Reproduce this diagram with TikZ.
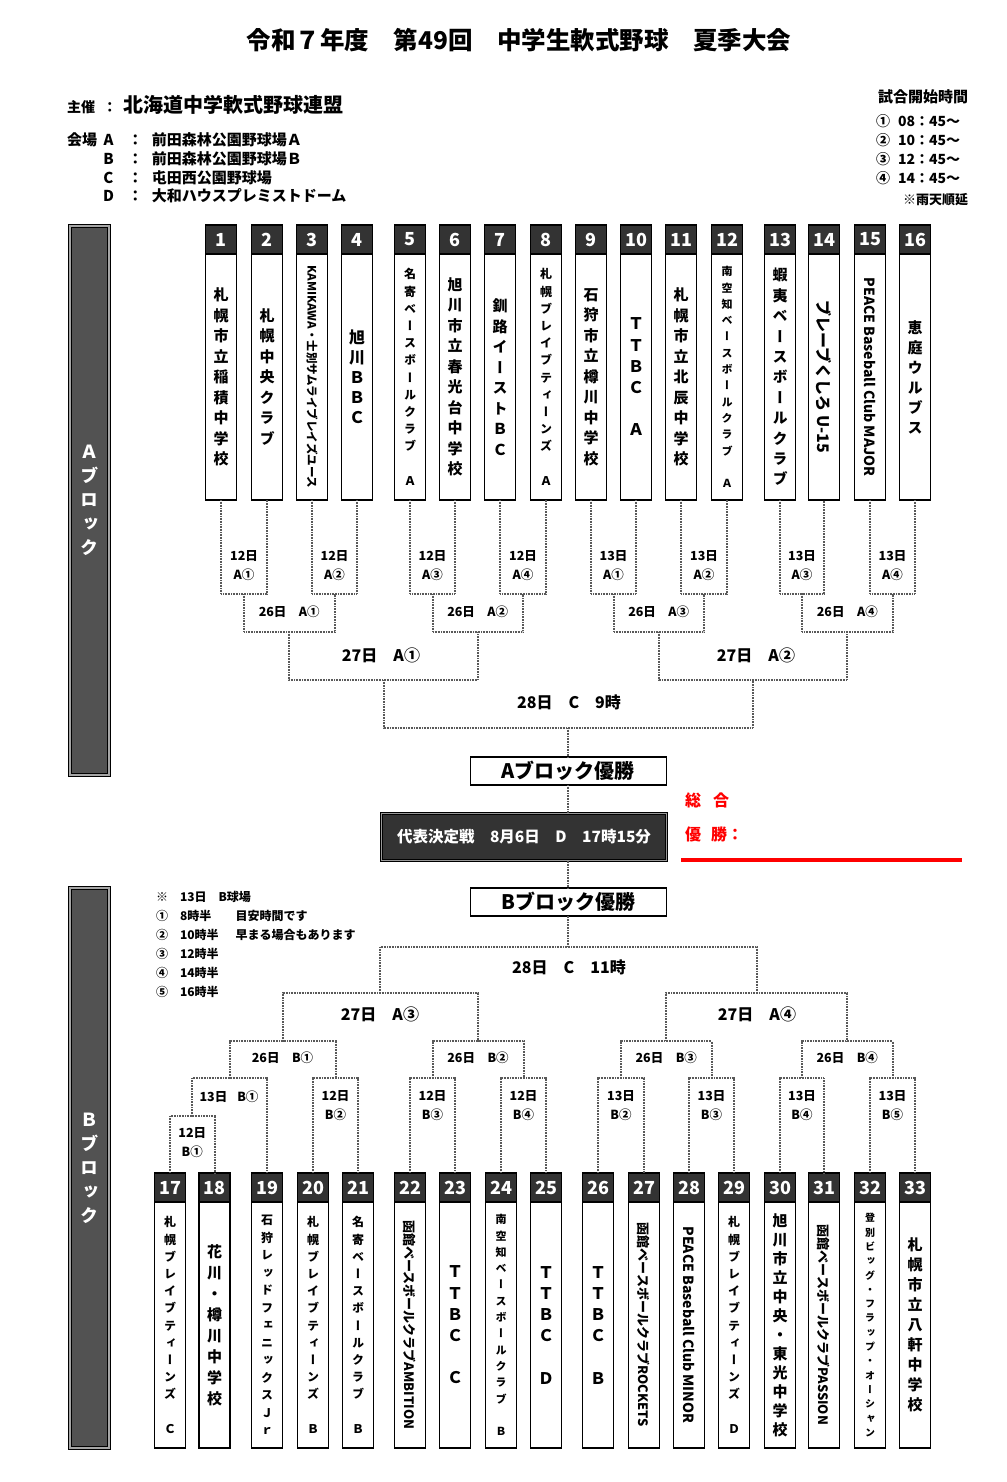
\documentclass[tikz,border=0pt]{standalone}
\usepackage{fontspec}
\setmainfont{Noto Sans CJK JP}
\newfontfamily\vjp{Noto Sans CJK JP}[RawFeature=+vert]
\usepackage{graphicx}
\usepackage{tikz}
\makeatletter
% stacked team names, one character per line
\newcommand\vname[3]{{\vjp\bfseries\fontsize{#1}{#2}\selectfont\vbox{\@tfor\vch:=#3\do{\hbox to #1pt{\hss\vch\hss}}}}}
\makeatother
\newcommand\rname[2]{\rotatebox{-90}{\fontsize{#1}{#1}\selectfont #2}}
\tikzset{
    every node/.style={inner sep=0pt, outer sep=0pt, font=\bfseries}
}
\tikzset{
    numbox/.style={draw, line width=1.5pt, fill=black!80, text=white,
    	minimum width=31pt, minimum height=29pt,
    	font=\bfseries\fontsize{18}{18}\selectfont},
    namebox/.style={draw, line width=1.5pt, fill=white,
    	minimum width=31pt, minimum height=246pt},
    blockbar/.style={draw=black, line width=1.2pt, double=black!35,
    	double distance=1.5pt, fill=black!68, text=white,
    	minimum width=39pt, minimum height=549pt},
    champ/.style={draw, line width=1.5pt, fill=white, minimum width=196pt,
    	minimum height=28pt, font=\bfseries\fontsize{20}{20}\selectfont},
    repbox/.style={draw=black, line width=1.2pt, double=black!40,
    	double distance=1.2pt, fill=black!80, text=white,
    	minimum width=285pt, minimum height=47pt,
    	font=\bfseries\fontsize{15.5}{15.5}\selectfont},
    rlbl/.style={font=\bfseries\fontsize{12.5}{19}\selectfont, align=center},
    rlblm/.style={font=\bfseries\fontsize{16}{16}\selectfont},
    bline/.style={draw=black!65, line width=2pt, dash pattern=on 1pt off 0.6pt}
}

\begin{document}
\begin{tikzpicture}[x=1pt, y=-1pt]
	\fill[white] (0,0) rectangle (1006,1482);
	\useasboundingbox (0,0) rectangle (1006,1482);

	% header
	\node (title) at (519,40) {\fontsize{24.5}{24.5}\selectfont 令和７年度　第49回　中学生軟式野球　夏季大会};
	\node[anchor=west] (host) at (67,105) {{\fontsize{14}{14}\selectfont 主催\hspace{8pt}：}\hspace{6pt}{\fontsize{20}{20}\selectfont 北海道中学軟式野球連盟}};
	\node[anchor=west] (venue) at (67,170) {\fontsize{15}{18.7}\selectfont\begin{tabular}{@{}l@{\hspace{6pt}}c@{\hspace{14pt}}c@{\hspace{9pt}}l@{}}
		会場 & A & ： & 前田森林公園野球場Ａ\\
		& B & ： & 前田森林公園野球場Ｂ\\
		& C & ： & 屯田西公園野球場\\
		& D & ： & 大和ハウスプレミストドーム
	\end{tabular}};
	\node[anchor=east] (timehd) at (968,97) {\fontsize{15}{15}\selectfont 試合開始時間};
	\node[anchor=west] (times) at (876,151.5) {\fontsize{14}{19}\selectfont\begin{tabular}{@{}l@{\hspace{8pt}}l@{}}
		① & 08：45～\\ ② & 10：45～\\ ③ & 12：45～\\ ④ & 14：45～
	\end{tabular}};
	\node[anchor=east] (rain) at (968,200) {\fontsize{13}{13}\selectfont ※雨天順延};

	% block bars
	\node[blockbar] (ablock) at (89.5,500.5) {\vname{18}{24}{Ａブロック}};
	\node[blockbar, minimum height=560pt] (bblock) at (89.5,1168) {\vname{18}{24}{Ｂブロック}};

	% A block teams
	\node[numbox] (h1) at (221,239.5) {1};
	\node[namebox] (t1) at (221,377) {\vname{15}{20.5}{札幌市立稲積中学校}};
	\node[numbox] (h2) at (267,239.5) {2};
	\node[namebox] (t2) at (267,377) {\vname{15}{20.5}{札幌中央クラブ}};
	\node[numbox] (h3) at (312,239.5) {3};
	\node[namebox] (t3) at (312,377) {\rname{11.5}{KAMIKAWA・士別サムライブレイズユース}};
	\node[numbox] (h4) at (357,239.5) {4};
	\node[namebox] (t4) at (357,377) {\vname{16}{20}{旭川ＢＢＣ}};
	\node[numbox] (h5) at (410,239.5) {5};
	\node[namebox] (t5) at (410,377) {\vname{12}{17.2}{名寄ベースボールクラブ　Ａ}};
	\node[numbox] (h6) at (455,239.5) {6};
	\node[namebox] (t6) at (455,377) {\vname{15}{20.5}{旭川市立春光台中学校}};
	\node[numbox] (h7) at (500,239.5) {7};
	\node[namebox] (t7) at (500,377) {\vname{15}{20.5}{釧路イーストＢＣ}};
	\node[numbox] (h8) at (546,239.5) {8};
	\node[namebox] (t8) at (546,377) {\vname{12}{17.2}{札幌ブレイブティーンズ　Ａ}};
	\node[numbox] (h9) at (591,239.5) {9};
	\node[namebox] (t9) at (591,377) {\vname{15}{20.5}{石狩市立樽川中学校}};
	\node[numbox] (h10) at (636,239.5) {10};
	\node[namebox] (t10) at (636,377) {\vname{16}{21.2}{ＴＴＢＣ　Ａ}};
	\node[numbox] (h11) at (681,239.5) {11};
	\node[namebox] (t11) at (681,377) {\vname{15}{20.5}{札幌市立北辰中学校}};
	\node[numbox] (h12) at (727,239.5) {12};
	\node[namebox] (t12) at (727,377) {\vname{11}{16.3}{南空知ベースボールクラブ　Ａ}};
	\node[numbox] (h13) at (780,239.5) {13};
	\node[namebox] (t13) at (780,377) {\vname{15}{20.4}{蝦夷ベースボールクラブ}};
	\node[numbox] (h14) at (824,239.5) {14};
	\node[namebox] (t14) at (824,377) {\rname{16}{ブレーブくしろ U-15}};
	\node[numbox] (h15) at (870,239.5) {15};
	\node[namebox] (t15) at (870,377) {\rname{14}{PEACE Baseball Club MAJOR}};
	\node[numbox] (h16) at (915,239.5) {16};
	\node[namebox] (t16) at (915,377) {\vname{15}{20}{恵庭ウルブス}};

	% B block teams
	\node[numbox] (h17) at (170,1187.5) {17};
	\node[namebox] (t17) at (170,1325) {\vname{12}{17.2}{札幌ブレイブティーンズ　Ｃ}};
	\node[numbox] (h18) at (214.5,1187.5) {18};
	\node[namebox] (t18) at (214.5,1325) {\vname{15}{21}{花川・樽川中学校}};
	\node[numbox] (h19) at (267,1187.5) {19};
	\node[namebox] (t19) at (267,1325) {\vname{12}{17.5}{石狩レッドフェニックスＪｒ}};
	\node[numbox] (h20) at (313,1187.5) {20};
	\node[namebox] (t20) at (313,1325) {\vname{12}{17.2}{札幌ブレイブティーンズ　Ｂ}};
	\node[numbox] (h21) at (358,1187.5) {21};
	\node[namebox] (t21) at (358,1325) {\vname{12}{17.2}{名寄ベースボールクラブ　Ｂ}};
	\node[numbox] (h22) at (410,1187.5) {22};
	\node[namebox] (t22) at (410,1325) {\rname{13}{函館ベースボールクラブAMBITION}};
	\node[numbox] (h23) at (455,1187.5) {23};
	\node[namebox] (t23) at (455,1325) {\vname{16}{21.2}{ＴＴＢＣ　Ｃ}};
	\node[numbox] (h24) at (501,1187.5) {24};
	\node[namebox] (t24) at (501,1325) {\vname{11}{16.3}{南空知ベースボールクラブ　Ｂ}};
	\node[numbox] (h25) at (546,1187.5) {25};
	\node[namebox] (t25) at (546,1325) {\vname{16}{21.2}{ＴＴＢＣ　Ｄ}};
	\node[numbox] (h26) at (598,1187.5) {26};
	\node[namebox] (t26) at (598,1325) {\vname{16}{21.2}{ＴＴＢＣ　Ｂ}};
	\node[numbox] (h27) at (644,1187.5) {27};
	\node[namebox] (t27) at (644,1325) {\rname{13}{函館ベースボールクラブROCKETS}};
	\node[numbox] (h28) at (689,1187.5) {28};
	\node[namebox] (t28) at (689,1325) {\rname{14}{PEACE Baseball Club MINOR}};
	\node[numbox] (h29) at (734,1187.5) {29};
	\node[namebox] (t29) at (734,1325) {\vname{12}{17.2}{札幌ブレイブティーンズ　Ｄ}};
	\node[numbox] (h30) at (780,1187.5) {30};
	\node[namebox] (t30) at (780,1325) {\vname{15}{19}{旭川市立中央・東光中学校}};
	\node[numbox] (h31) at (824,1187.5) {31};
	\node[namebox] (t31) at (824,1325) {\rname{13}{函館ベースボールクラブPASSION}};
	\node[numbox] (h32) at (870,1187.5) {32};
	\node[namebox] (t32) at (870,1325) {\vname{10}{14.3}{登別ビッグ・フラップ・オーシャン}};
	\node[numbox] (h33) at (915,1187.5) {33};
	\node[namebox] (t33) at (915,1325) {\vname{15}{20}{札幌市立八軒中学校}};

	% centre
	\node[champ] (achamp) at (568.25,771) {Aブロック優勝};
	\node[repbox] (final) at (524,837) {代表決定戦　8月6日　D　17時15分};
	\node[champ] (bchamp) at (568.25,902) {Bブロック優勝};
	\node[anchor=west, text=red] (sogo) at (685,800) {\fontsize{16}{16}\selectfont 総\hspace{12pt}合};
	\node[anchor=west, text=red] (yusho) at (685,834) {\fontsize{16}{16}\selectfont 優\hspace{10pt}勝：};
	\draw[red, line width=3.5pt] (681,860) -- (962,860);

	% note on B block
	\node[anchor=west] (bnote) at (156,945.5) {\fontsize{12}{19}\selectfont\begin{tabular}{@{}l@{\hspace{12pt}}l@{\hspace{17pt}}l@{}}
		※ & \multicolumn{2}{@{}l@{}}{13日\hspace{12pt}B球場}\\
		① & 8時半 & 目安時間です\\
		② & 10時半 & 早まる場合もあります\\
		③ & 12時半 & \\
		④ & 14時半 & \\
		⑤ & 16時半 &
	\end{tabular}};

	% A bracket points
	\coordinate (a1) at (244,594); \coordinate (a2) at (334.5,594);
	\coordinate (a3) at (432.5,594); \coordinate (a4) at (523,594);
	\coordinate (a5) at (613.5,594); \coordinate (a6) at (704,594);
	\coordinate (a7) at (802,594); \coordinate (a8) at (892.5,594);
	\coordinate (a9) at (289.25,632); \coordinate (a10) at (477.75,632);
	\coordinate (a11) at (658.75,632); \coordinate (a12) at (847.25,632);
	\coordinate (a13) at (383.5,680); \coordinate (a14) at (753,680);
	\coordinate (a15) at (568.25,728);

	\draw[bline] (t1.south) |- (a1) -| (t2.south);
	\draw[bline] (t3.south) |- (a2) -| (t4.south);
	\draw[bline] (t5.south) |- (a3) -| (t6.south);
	\draw[bline] (t7.south) |- (a4) -| (t8.south);
	\draw[bline] (t9.south) |- (a5) -| (t10.south);
	\draw[bline] (t11.south) |- (a6) -| (t12.south);
	\draw[bline] (t13.south) |- (a7) -| (t14.south);
	\draw[bline] (t15.south) |- (a8) -| (t16.south);
	\draw[bline] (a1) |- (a9) -| (a2); \draw[bline] (a3) |- (a10) -| (a4);
	\draw[bline] (a5) |- (a11) -| (a6); \draw[bline] (a7) |- (a12) -| (a8);
	\draw[bline] (a9) |- (a13) -| (a10); \draw[bline] (a11) |- (a14) -| (a12);
	\draw[bline] (a13) |- (a15) -| (a14);
	\draw[bline] (a15) -- (achamp.north);
	\draw[bline] (achamp.south) -- (achamp.south |- final.north);
	\draw[bline] (achamp.south |- final.south) -- (bchamp.north);

	\node[rlbl] (la1) at (244,566) {12日\\A①};
	\node[rlbl] (la2) at (334.5,566) {12日\\A②};
	\node[rlbl] (la3) at (432.5,566) {12日\\A③};
	\node[rlbl] (la4) at (523,566) {12日\\A④};
	\node[rlbl] (la5) at (613.5,566) {13日\\A①};
	\node[rlbl] (la6) at (704,566) {13日\\A②};
	\node[rlbl] (la7) at (802,566) {13日\\A③};
	\node[rlbl] (la8) at (892.5,566) {13日\\A④};
	\node[rlbl] (la9) at (289.25,612) {26日　A①};
	\node[rlbl] (la10) at (477.75,612) {26日　A②};
	\node[rlbl] (la11) at (658.75,612) {26日　A③};
	\node[rlbl] (la12) at (847.25,612) {26日　A④};
	\node[rlblm] (la13) at (381,655) {27日　A①};
	\node[rlblm] (la14) at (756,655) {27日　A②};
	\node[rlblm] (la15) at (569,702) {28日　C　9時};

	% B bracket points
	\coordinate (b0) at (192.25,1116);
	\coordinate (b1) at (229.6,1078); \coordinate (b2) at (335.5,1078);
	\coordinate (b3) at (432.5,1078); \coordinate (b4) at (523.5,1078);
	\coordinate (b5) at (621,1078); \coordinate (b6) at (711.5,1078);
	\coordinate (b7) at (802,1078); \coordinate (b8) at (892.5,1078);
	\coordinate (b9) at (282.5,1041); \coordinate (b10) at (478,1041);
	\coordinate (b11) at (666.25,1041); \coordinate (b12) at (847.25,1041);
	\coordinate (b13) at (380.25,993); \coordinate (b14) at (756.75,993);
	\coordinate (b15) at (568.25,947);

	\draw[bline] (h17.north) |- (b0) -| (h18.north);
	\draw[bline] (b0) |- (b1) -| (h19.north);
	\draw[bline] (h20.north) |- (b2) -| (h21.north);
	\draw[bline] (h22.north) |- (b3) -| (h23.north);
	\draw[bline] (h24.north) |- (b4) -| (h25.north);
	\draw[bline] (h26.north) |- (b5) -| (h27.north);
	\draw[bline] (h28.north) |- (b6) -| (h29.north);
	\draw[bline] (h30.north) |- (b7) -| (h31.north);
	\draw[bline] (h32.north) |- (b8) -| (h33.north);
	\draw[bline] (b1) |- (b9) -| (b2); \draw[bline] (b3) |- (b10) -| (b4);
	\draw[bline] (b5) |- (b11) -| (b6); \draw[bline] (b7) |- (b12) -| (b8);
	\draw[bline] (b9) |- (b13) -| (b10); \draw[bline] (b11) |- (b14) -| (b12);
	\draw[bline] (b13) |- (b15) -| (b14);
	\draw[bline] (b15) -- (bchamp.south);

	\node[rlbl] (lb0) at (192.25,1143) {12日\\B①};
	\node[rlbl] (lb1) at (229,1097) {13日\hspace{10pt}B①};
	\node[rlbl] (lb2) at (335.5,1106) {12日\\B②};
	\node[rlbl] (lb3) at (432.5,1106) {12日\\B③};
	\node[rlbl] (lb4) at (523.5,1106) {12日\\B④};
	\node[rlbl] (lb5) at (621,1106) {13日\\B②};
	\node[rlbl] (lb6) at (711.5,1106) {13日\\B③};
	\node[rlbl] (lb7) at (802,1106) {13日\\B④};
	\node[rlbl] (lb8) at (892.5,1106) {13日\\B⑤};
	\node[rlbl] (lb9) at (282.5,1058) {26日　B①};
	\node[rlbl] (lb10) at (478,1058) {26日　B②};
	\node[rlbl] (lb11) at (666.25,1058) {26日　B③};
	\node[rlbl] (lb12) at (847.25,1058) {26日　B④};
	\node[rlblm] (lb13) at (380,1014) {27日　A③};
	\node[rlblm] (lb14) at (757,1014) {27日　A④};
	\node[rlblm] (lb15) at (569,967) {28日　C　11時};
\end{tikzpicture}
\end{document}
